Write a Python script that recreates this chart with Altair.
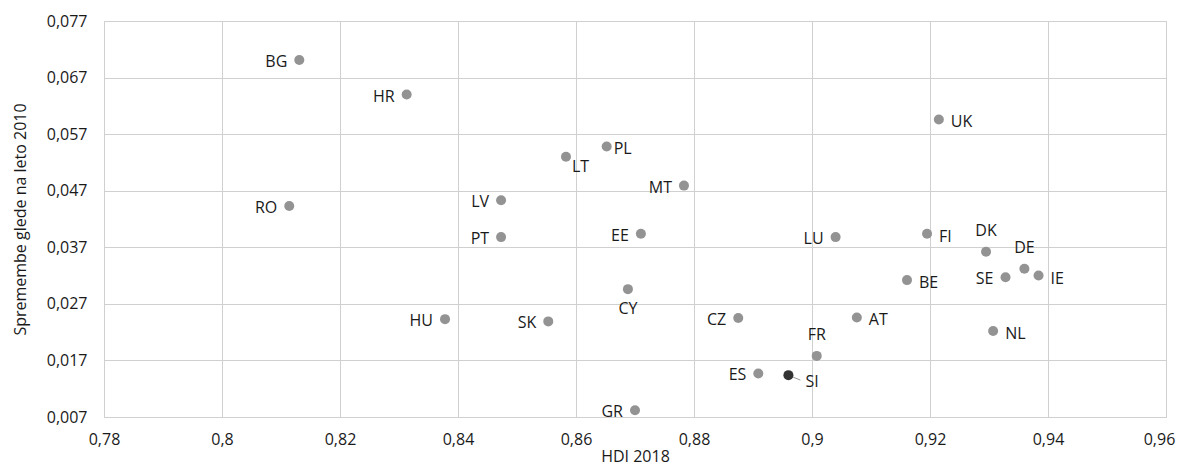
import altair as alt
import pandas as pd

countries = ["BG", "RO", "HR", "LT", "PL", "MT", "LV", "PT", "EE", "CY", "HU", "SK", "CZ", "ES",
             "GR", "SI", "FR", "AT", "LU", "BE", "FI", "UK", "DK", "DE", "SE", "IE", "NL"]
hdi_2018 = [0.8131, 0.8114, 0.8313, 0.8583, 0.8652, 0.8783, 0.8473, 0.8473, 0.8710, 0.8688,
            0.8378, 0.8553, 0.8875, 0.8909, 0.8700, 0.8960, 0.9008, 0.9076, 0.9040, 0.9161,
            0.9195, 0.9215, 0.9295, 0.9360, 0.9328, 0.9384, 0.9307]
change_2010 = [0.0701, 0.0443, 0.0640, 0.0530, 0.0548, 0.0479, 0.0453, 0.0388, 0.0394, 0.0296,
               0.0243, 0.0239, 0.0245, 0.0147, 0.0082, 0.0144, 0.0178, 0.0246, 0.0388, 0.0312,
               0.0394, 0.0596, 0.0362, 0.0332, 0.0317, 0.0320, 0.0222]
# label placement category
label_side = ["L", "L", "L", "BR", "RN", "L", "L", "L", "L", "B", "L", "L", "L", "L",
              "L", "SI", "T", "R", "L", "R", "R", "R", "T", "T", "L", "R", "R"]
highlight = ["SI"]

x_ticks = [0.78, 0.80, 0.82, 0.84, 0.86, 0.88, 0.90, 0.92, 0.94, 0.96]
y_ticks = [0.007, 0.017, 0.027, 0.037, 0.047, 0.057, 0.067, 0.077]

df = pd.DataFrame({"country": countries, "hdi": hdi_2018, "chg": change_2010, "side": label_side})
df["hl"] = df["country"].isin(highlight)

FONT = "Open Sans"
GRID = "#d0d0d0"
FS = 16

xs = alt.Scale(domain=[x_ticks[0], x_ticks[-1]], nice=False, zero=False)
ys = alt.Scale(domain=[y_ticks[0], y_ticks[-1]], nice=False, zero=False)

X = alt.X("hdi:Q", scale=xs, title="HDI 2018",
          axis=alt.Axis(values=x_ticks, labelExpr="replace(format(datum.value, '.2~f'), '.', ',')",
                        grid=True, gridColor=GRID, gridWidth=1, domain=False, ticks=False,
                        labelPadding=14, titlePadding=1, labelFont=FONT, titleFont=FONT,
                        labelFontSize=FS, titleFontSize=FS, labelColor="#1a1a1a",
                        titleColor="#1a1a1a", titleFontWeight="normal", labelFlush=False,
                        labelOffset={"condition": {"test": "datum.value > 0.955", "value": -7},
                                     "value": 0}))
Y = alt.Y("chg:Q", scale=ys, title="Spremembe glede na leto 2010",
          axis=alt.Axis(values=y_ticks, labelExpr="replace(format(datum.value, '.3f'), '.', ',')",
                        grid=True, gridColor=GRID, gridWidth=1, domain=False, ticks=False,
                        labelPadding=17, titlePadding=18, labelFont=FONT, titleFont=FONT,
                        labelFontSize=FS, titleFontSize=FS, labelColor="#1a1a1a",
                        titleColor="#1a1a1a", titleFontWeight="normal", labelFlush=False))

base = alt.Chart(df)

leader = base.transform_filter(alt.datum.side == "SI").mark_rule(
    color="#999999", strokeWidth=1, x2Offset=12, y2Offset=5
).encode(x=X, y=Y, x2="hdi:Q", y2="chg:Q")

points = base.mark_circle(size=100, opacity=1).encode(
    x=X, y=Y,
    color=alt.condition(alt.datum.hl, alt.value("#333333"), alt.value("#939393")),
)

def labels(side, align, dx, dy):
    return base.transform_filter(alt.datum.side == side).mark_text(
        align=align, baseline="middle", dx=dx, dy=dy, font=FONT, fontSize=FS, color="#1a1a1a"
    ).encode(x=X, y=Y, text="country:N")

layers = [
    leader, points,
    labels("L", "right", -12, 2),
    labels("R", "left", 12, 3),
    labels("RN", "left", 7, 2),
    labels("BR", "left", 6, 10),
    labels("T", "center", 0, -21),
    labels("B", "center", 0, 20),
    labels("SI", "left", 17, 7),
]

chart = alt.layer(*layers).properties(
    width=1062, height=396,
    autosize=alt.AutoSizeParams(type="none"),
    padding={"left": 96, "top": 13, "right": 10, "bottom": 51},
).configure_view(stroke=GRID, strokeWidth=1)

chart.save("out.html", embed_options={"renderer": "svg", "actions": False})
